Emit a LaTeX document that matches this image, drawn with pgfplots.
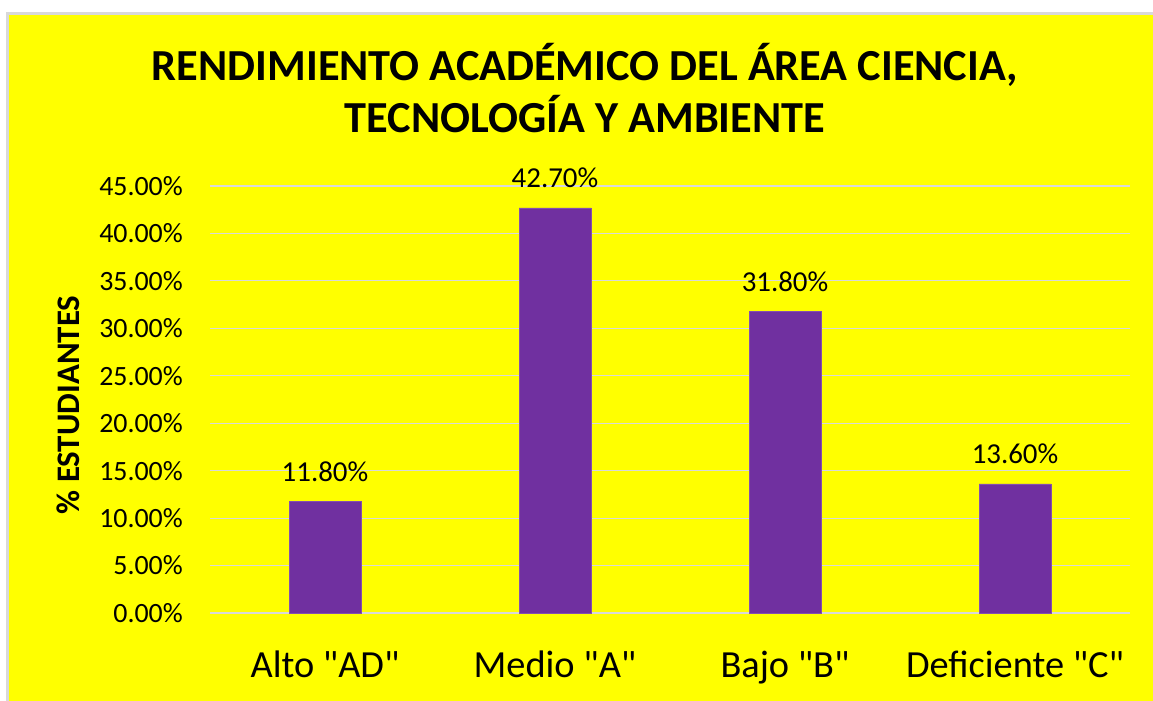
\documentclass[border=0pt]{standalone}
\usepackage{pgfplots}
\pgfplotsset{compat=1.18}
\usepackage{fontspec}
\setmainfont{Carlito}[Ligatures=TeXOff]
\definecolor{bgyellow}{HTML}{FFFF00}
\definecolor{barpurple}{HTML}{7030A0}
\definecolor{gridgray}{HTML}{D9D9D9}
\begin{document}
\begin{tikzpicture}[x=1bp,y=1bp]
\useasboundingbox (0,0) rectangle (1153,701);
\fill[white] (0,0) rectangle (1153,701);
\fill[gridgray] (6,0) rectangle (1153,689);
\fill[bgyellow] (9,0) rectangle (1153,686);
\node[anchor=base,inner sep=0pt,font=\fontsize{44.5}{48}\selectfont\bfseries] at (585,620) {RENDIMIENTO ACADÉMICO DEL ÁREA CIENCIA,};
\node[anchor=base,inner sep=0pt,font=\fontsize{44.5}{48}\selectfont\bfseries] at (585,568) {TECNOLOGÍA Y AMBIENTE};
\begin{axis}[
  at={(210bp,88bp)}, anchor=south west,
  scale only axis, width=920bp, height=427bp,
  xmin=-0.5, xmax=3.5, ymin=0, ymax=45,
  axis lines*=left,
  x axis line style={gridgray, line width=1.2pt, -},
  y axis line style={draw=none},
  ytick={0,5,...,45}, xtick=data,
  xticklabels={Alto "AD", Medio "A", Bajo "B", Deficiente "C"},
  ymajorgrids, grid style={gridgray, line width=1.2pt},
  major tick length=0pt,
  /pgf/number format/assume math mode=true,
  yticklabel={\pgfmathprintnumber[fixed,fixed zerofill,precision=2]{\tick}\%},
  yticklabel style={anchor=east, inner sep=0pt, xshift=-27bp, font=\fontsize{28}{30}\selectfont},
  xticklabel style={anchor=base, inner sep=0pt, yshift=-65bp, font=\fontsize{38.5}{42}\selectfont},
  ylabel={\% ESTUDIANTES},
  ylabel style={at={(axis description cs:-0.1535,0.487)}, anchor=center, rotate=0, font=\fontsize{33}{36}\selectfont\bfseries},
  ybar, bar width=72bp,
  nodes near coords={\pgfmathprintnumber[fixed,fixed zerofill,precision=2]{\pgfplotspointmeta}\%},
  every node near coord/.append style={anchor=base, inner sep=0pt, yshift=20bp, font=\fontsize{29}{30}\selectfont, black},
  clip=false,
]
\addplot[fill=barpurple, draw=barpurple!85!white, line width=0.6pt] coordinates {(0,11.8) (1,42.7) (2,31.8) (3,13.6)};
\end{axis}
\end{tikzpicture}
\end{document}
